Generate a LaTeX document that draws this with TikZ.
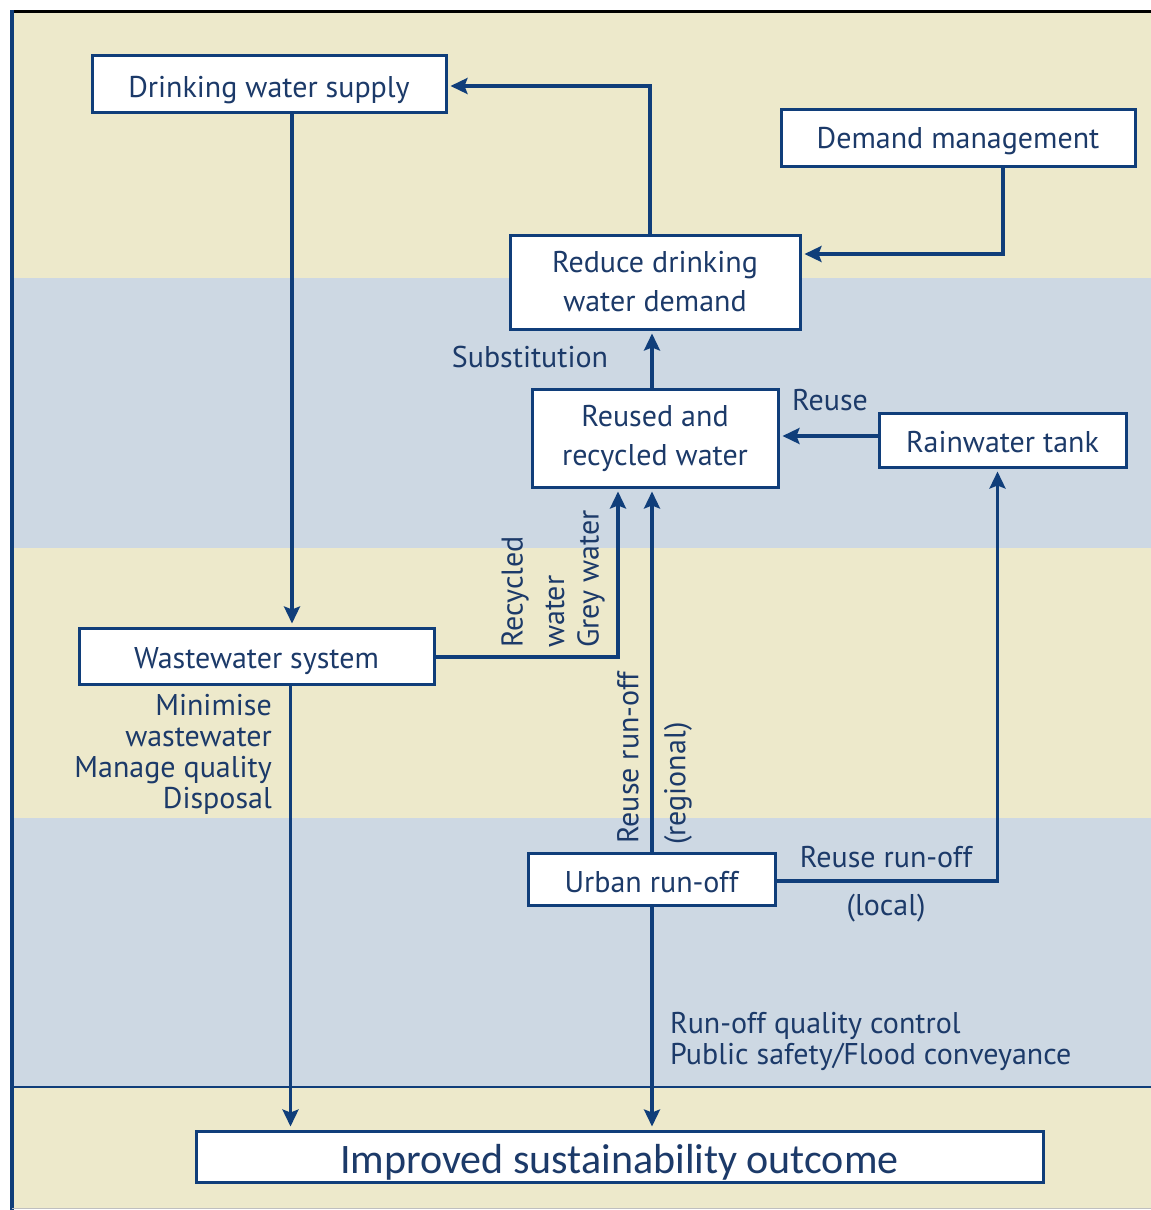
\documentclass[tikz,border=0pt]{standalone}
\usepackage{fontspec}
\setmainfont{PT Sans}
\newfontfamily\carl{Carlito}
\usetikzlibrary{arrows.meta,calc}
\definecolor{beige}{RGB}{237,233,203}
\definecolor{bandblue}{RGB}{205,216,227}
\definecolor{navy}{RGB}{16,62,122}
\definecolor{txt}{RGB}{28,58,105}
\begin{document}
\begin{tikzpicture}[x=1pt,y=-1pt,
  box/.style={draw=navy, line width=3pt, fill=white, text=txt, font=\fontsize{30}{39}\selectfont, inner sep=0pt, align=center},
  lbl/.style={text=txt, font=\fontsize{30}{31}\selectfont, inner sep=0pt},
  arr/.style={draw=navy, line width=3.2pt, -{Stealth[length=17pt,width=16pt,inset=3pt]}, shorten >=3pt}]
% background
\fill[white] (0,0) rectangle (1151,1210);
\useasboundingbox (0,0) rectangle (1151,1210);
\fill[beige] (12,11) rectangle (1151,278);
\fill[bandblue] (12,278) rectangle (1151,548);
\fill[beige] (12,548) rectangle (1151,818);
\fill[bandblue] (12,818) rectangle (1151,1087);
\fill[beige] (12,1087) rectangle (1151,1208);
\draw[navy, line width=2.5pt] (12,1087) -- (1151,1087);
\draw[black, line width=3pt] (10,11) -- (1151,11);
\draw[navy, line width=4pt] (12,10) -- (12,1210);
\draw[gray!50, line width=1pt] (12,1208.5) -- (1151,1208.5);
% boxes
\node[box, minimum width=354pt, minimum height=57pt, text height=30pt, text depth=3pt] (dws) at (269,84) {Drinking water supply};
\node[box, minimum width=354pt, minimum height=57pt, text height=25pt, text depth=3pt] (dm) at (958,137.5) {Demand management};
\node[box, minimum width=290pt, minimum height=94pt] (red) at (655,282) {Reduce drinking\\water demand};
\node[box, minimum width=246pt, minimum height=98pt] (rr) at (655,438) {Reused and\\recycled water};
\node[box, minimum width=247pt, minimum height=54pt, text height=27pt, text depth=3pt] (rt) at (1002.5,440) {Rainwater tank};
\node[box, minimum width=355pt, minimum height=56pt, text height=27pt, text depth=3pt] (ww) at (256.5,656) {Wastewater system};
\node[box, minimum width=247pt, minimum height=52pt, text height=29pt, text depth=3pt] (ur) at (651.5,879) {Urban run-off};
\node[box, minimum width=847pt, minimum height=51pt, text height=36pt, text depth=3pt, font=\carl\fontsize{42}{42}\selectfont] (ios) at (619.5,1156.5) {Improved sustainability outcome};
% labels
\node[lbl] (sub) at (530,357) {Substitution};
\node[lbl] (reuse) at (830,400) {Reuse};
\node[lbl, align=right, anchor=east] (mini) at (272,754) {Minimise\\wastewater\\Manage quality\\Disposal};
\node[lbl, align=left, anchor=west] (roq) at (670,1041) {Run-off quality control\\Public safety/Flood conveyance};
\node[lbl] (rrl) at (886,857) {Reuse run-off};
\node[lbl] (loc) at (886,908) {(local)};
\node[lbl, rotate=90, anchor=west] (rec1) at (515,648) {Recycled};
\node[lbl, rotate=90, anchor=west] (rec2) at (555,648) {water};
\node[lbl, rotate=90, anchor=west] (rec3) at (591,648) {Grey water};
\node[lbl, rotate=90, anchor=west] (rro) at (628,844) {Reuse run-off};
\node[lbl, rotate=90, anchor=west] (reg) at (678,845) {(regional)};
% connectors
\draw[arr] ([xshift=23pt]dws.south) -- ([xshift=23pt]dws.south |- ww.north);
\draw[arr] ([xshift=-5pt]red.north) |- ([yshift=-2pt]dws.east);
\draw[arr] ([xshift=45pt]dm.south) |- ([yshift=28pt]red.east);
\draw[arr] ([xshift=-3pt]rr.north) -- ([xshift=-3pt]red.south);
\draw[arr] ([yshift=4pt]rt.west) -- ([yshift=4pt]rt.west -| rr.east);
\draw[arr] ([yshift=-1pt]ww.east) -| ([xshift=-37pt]rr.south);
\draw[arr] ([xshift=0.5pt]ur.north) -- ([xshift=0.5pt]ur.north |- rr.south);
\draw[arr] ([yshift=-2pt]ur.east) -| ([xshift=-5pt]rt.south);
\draw[arr] ([xshift=34pt]ww.south) -- ([xshift=34pt]ww.south |- ios.north);
\draw[arr] ([xshift=0.5pt]ur.south) -- ([xshift=0.5pt]ur.south |- ios.north);
\end{tikzpicture}
\end{document}
